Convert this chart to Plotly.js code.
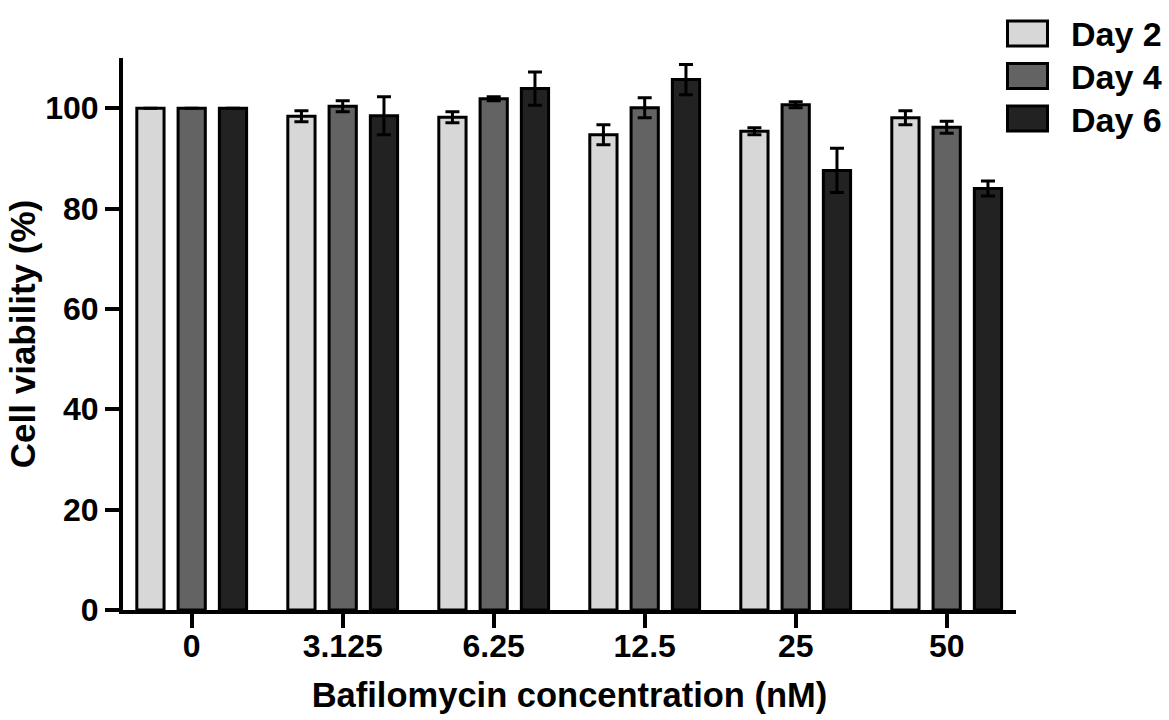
<!DOCTYPE html>
<html>
<head>
<meta charset="utf-8">
<script src="https://cdn.plot.ly/plotly-3.0.1.min.js"></script>
<style>
  html, body { margin: 0; padding: 0; background: #fff; }
  #chart { width: 1169px; height: 720px; }
</style>
</head>
<body>
<div id="chart"></div>
<script>
// ---- Data ----
const concentrations = ['0', '3.125', '6.25', '12.5', '25', '50'];
const seriesNames = ['Day 2', 'Day 4', 'Day 6'];
const day2Values = [100, 98.4, 98.2, 94.7, 95.4, 98.1];
const day2Errors = [null, 1.1, 1.1, 2.0, 0.7, 1.4];
const day4Values = [100, 100.4, 101.9, 100.1, 100.7, 96.2];
const day4Errors = [null, 1.1, 0.4, 2.0, 0.6, 1.2];
const day6Values = [100, 98.5, 103.9, 105.7, 87.6, 84.0];
const day6Errors = [null, 3.8, 3.3, 3.0, 4.4, 1.5];
const seriesColors = ['#d7d7d7', '#636363', '#222222'];

const values = [day2Values, day4Values, day6Values];
const errors = [day2Errors, day4Errors, day6Errors];

const FONT = 'Liberation Sans, Arial, Helvetica, sans-serif';

const traces = seriesNames.map((name, i) => ({
  type: 'bar',
  name: name,
  x: concentrations,
  y: values[i],
  marker: { color: seriesColors[i], line: { color: '#000', width: 3 } },
  error_y: { type: 'data', array: errors[i], visible: true, color: '#000', thickness: 3, width: 7 },
  showlegend: false,
  hoverinfo: 'skip'
}));

// Plot-area geometry (pixels) used to place the hand-built legend
const W = 1169, H = 720;
const M = { l: 123, r: 153, t: 58, b: 110 };
const plotW = W - M.l - M.r, plotH = H - M.t - M.b;
const pxX = px => (px - M.l) / plotW;
const pxY = py => (H - M.b - py) / plotH;

const shapes = [];
const annotations = [];
seriesNames.forEach((name, i) => {
  const cy = 33.5 + i * 42.5;
  shapes.push({
    type: 'rect', xref: 'paper', yref: 'paper',
    x0: pxX(1007.5), x1: pxX(1047.5), y0: pxY(cy - 12.5), y1: pxY(cy + 12.5),
    fillcolor: seriesColors[i], line: { color: '#000', width: 3 }
  });
  annotations.push({
    xref: 'paper', yref: 'paper', x: pxX(1069), y: pxY(cy + 1),
    xanchor: 'left', yanchor: 'middle', showarrow: false,
    text: name, font: { family: FONT, size: 34, color: '#000', weight: 'bold' }
  });
});

const layout = {
  width: W, height: H,
  margin: M,
  paper_bgcolor: '#fff', plot_bgcolor: '#fff',
  barmode: 'group', bargap: 0.18, bargroupgap: 0.34,
  showlegend: false,
  font: { family: FONT, color: '#000', weight: 'bold' },
  xaxis: {
    type: 'category', range: [-0.455, 5.459],
    showline: true, linecolor: '#000', linewidth: 4,
    ticks: 'outside', ticklen: 14, tickwidth: 4, tickcolor: '#000',
    ticklabelstandoff: -9,
    showgrid: false, zeroline: false,
    tickfont: { family: FONT, size: 32, color: '#000', weight: 'bold' },
    title: { text: 'Bafilomycin concentration (nM)', standoff: 20,
             font: { family: FONT, size: 34.5, color: '#000', weight: 'bold' } }
  },
  yaxis: {
    range: [0, 110], tickvals: [0, 20, 40, 60, 80, 100],
    showline: true, linecolor: '#000', linewidth: 4,
    ticks: 'outside', ticklen: 14, tickwidth: 4, tickcolor: '#000',
    showgrid: false, zeroline: false,
    tickfont: { family: FONT, size: 32, color: '#000', weight: 'bold' },
    title: { text: 'Cell viability (%)', standoff: 0,
             font: { family: FONT, size: 35, color: '#000', weight: 'bold' } }
  },
  shapes: shapes,
  annotations: annotations
};

Plotly.newPlot('chart', traces, layout, { displayModeBar: false, staticPlot: true });
</script>
</body>
</html>
